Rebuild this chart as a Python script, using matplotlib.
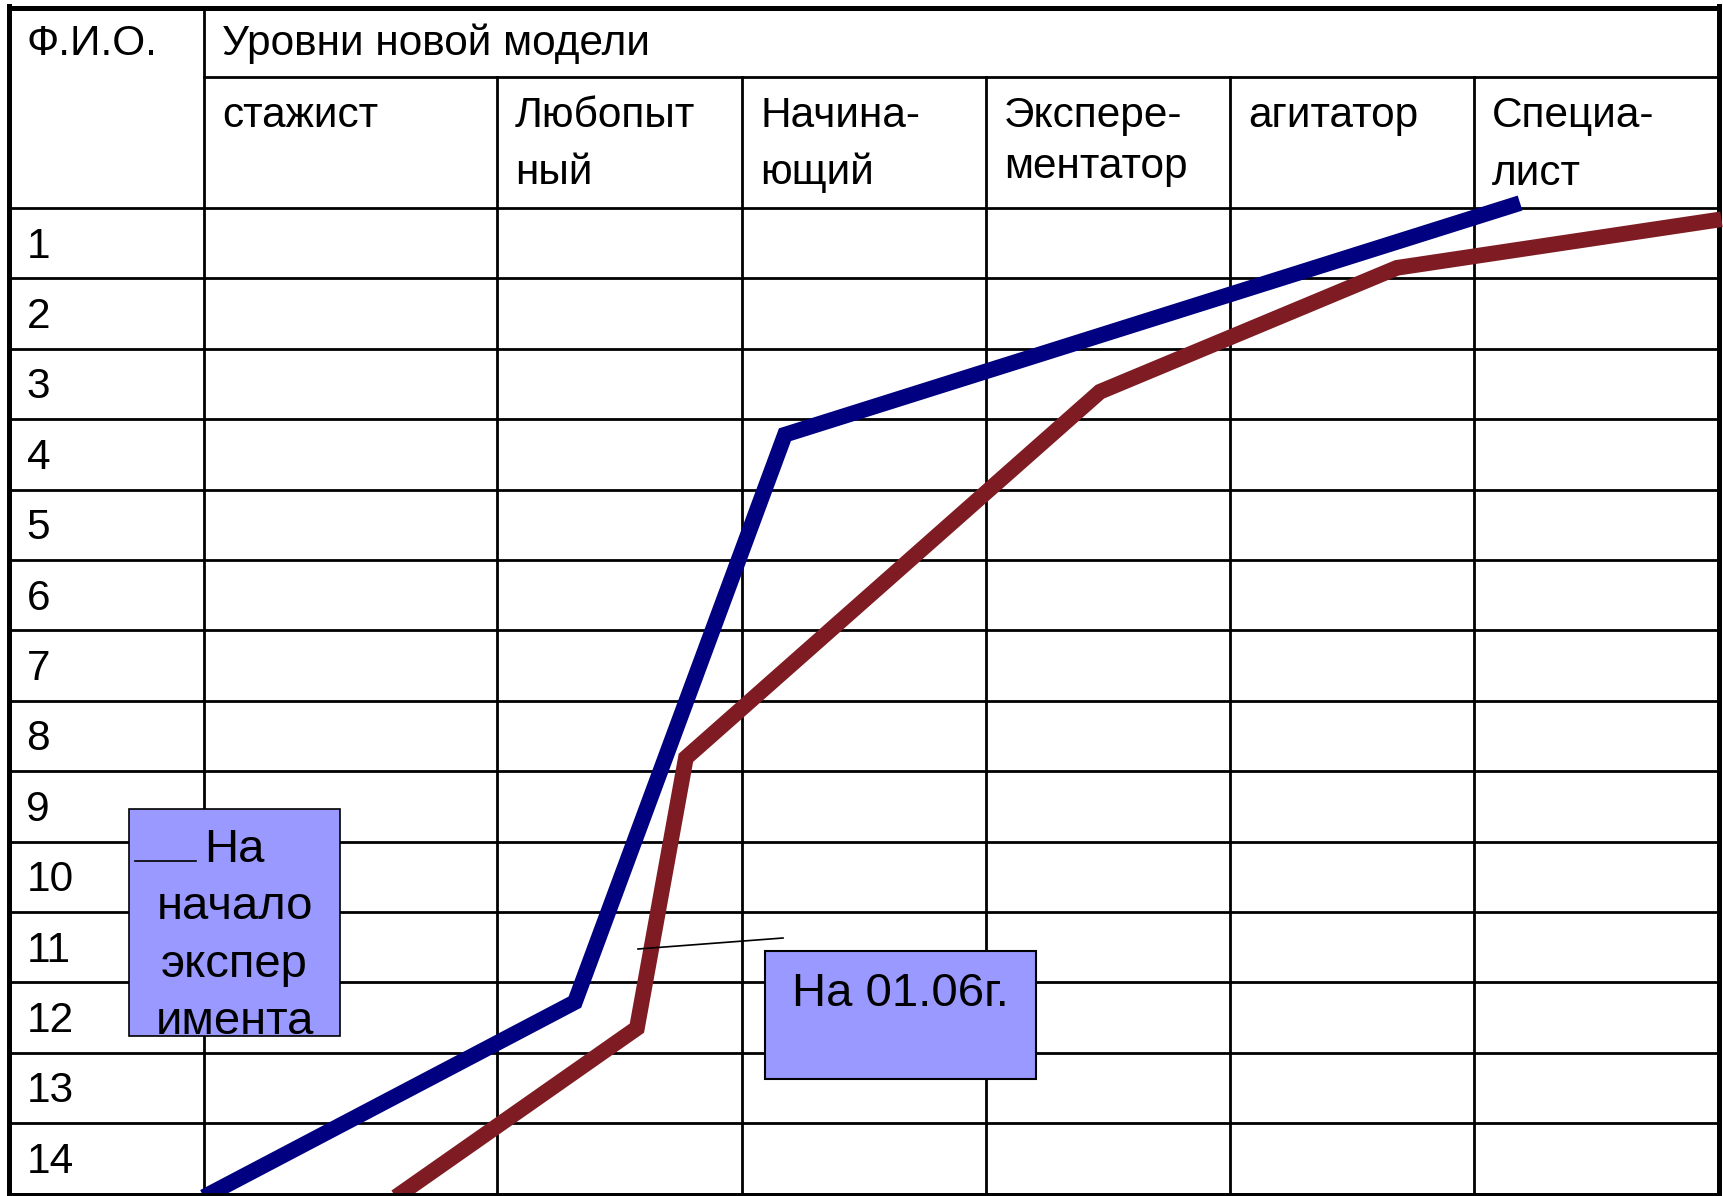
import numpy as np
import matplotlib
matplotlib.use("Agg")
import matplotlib.pyplot as plt
from matplotlib.patches import Rectangle

plt.rcParams['font.family'] = ['Liberation Sans', 'DejaVu Sans']

# ---------------- data ----------------
corner_label = "Ф.И.О."
group_label = "Уровни новой модели"
level_labels = [["стажист"], ["Любопыт", "ный"], ["Начина-", "ющий"],
                ["Экспере-", "ментатор"], ["агитатор"], ["Специа-", "лист"]]
row_labels = [str(i) for i in range(1, 15)]

# series: level position (0..6, column units) vs row position (0 = top of row 1, 14 = bottom)
start_level = [-0.07, 1.318, 2.176, 5.188]
start_row = [14.2, 11.28, 3.22, -0.07]
now_level = [0.603, 1.571, 1.771, 3.467, 4.684, 6.01]
now_row = [14.2, 11.65, 7.81, 2.61, 0.85, 0.16]

start_name = ["На", "начало", "экспер", "имента"]
now_name = "На 01.06г."

# ---------------- layout (pixels) ----------------
W, H = 1723, 1196
col_edges = np.array([8.5, 204, 497, 742, 986, 1230, 1474, 1719])
level_edges = col_edges[1:]
hdr1_y = 77
top_y = 8
row_top = 208
row_h = 70.4
row_edges = row_top + row_h * np.arange(15)
bottom_y = 1195

fig = plt.figure(figsize=(W / 100, H / 100), dpi=100)
ax = fig.add_axes([0, 0, 1, 1])
ax.set_xlim(0, W)
ax.set_ylim(H, 0)
ax.axis('off')

inner_lw = 2.0
outer_lw = 3.6
fs = 30.5

# inner grid
ax.plot([col_edges[1], col_edges[-1]], [hdr1_y, hdr1_y], color='black', lw=inner_lw, zorder=1)
for y in row_edges[:-1]:
    ax.plot([col_edges[0], col_edges[-1]], [y, y], color='black', lw=inner_lw, zorder=1)
ax.plot([col_edges[1], col_edges[1]], [top_y, bottom_y], color='black', lw=inner_lw, zorder=1)
for x in col_edges[2:-1]:
    ax.plot([x, x], [hdr1_y, bottom_y], color='black', lw=inner_lw, zorder=1)

# outer border (left, top, right)
ax.plot([col_edges[0], col_edges[0]], [top_y - 2, bottom_y + 3], color='black', lw=outer_lw, zorder=1)
ax.plot([col_edges[0], col_edges[-1]], [top_y, top_y], color='black', lw=outer_lw, zorder=1)
ax.plot([col_edges[-1], col_edges[-1]], [top_y - 2, bottom_y + 3], color='black', lw=outer_lw, zorder=1)

# header texts
tx = 18
ax.text(col_edges[0] + tx, 55, corner_label, fontsize=fs, va='baseline', ha='left', zorder=2)
ax.text(col_edges[1] + tx, 55, group_label, fontsize=fs, va='baseline', ha='left', zorder=2)
line2_base = [184, 184, 184, 178, 184, 185]
for i, lines in enumerate(level_labels):
    ax.text(col_edges[i + 1] + tx, 127, lines[0], fontsize=fs, va='baseline', ha='left', zorder=2)
    if len(lines) > 1:
        ax.text(col_edges[i + 1] + tx, line2_base[i], lines[1], fontsize=fs,
                va='baseline', ha='left', zorder=2)
for k, lab in enumerate(row_labels):
    ax.text(col_edges[0] + tx, row_edges[k] + 49.5, lab, fontsize=fs, va='baseline', ha='left', zorder=2)

# series lines
def to_px(levels, rows):
    lv = np.asarray(levels, float)
    xs = np.interp(lv, np.arange(7), level_edges)
    xs = np.where(lv < 0, level_edges[0] + lv * (level_edges[1] - level_edges[0]), xs)
    xs = np.where(lv > 6, level_edges[-1] + (lv - 6) * (level_edges[-1] - level_edges[-2]), xs)
    ys = row_top + np.asarray(rows, float) * row_h
    return xs, ys

line_lw = 11.3
bx, by = to_px(start_level, start_row)
ax.plot(bx, by, color='#000080', lw=line_lw, solid_joinstyle='miter', solid_capstyle='butt', zorder=3)
rx, ry = to_px(now_level, now_row)
ax.plot(rx, ry, color='#7f1b23', lw=line_lw, solid_joinstyle='miter', solid_capstyle='butt', zorder=3)

# bottom border over the line ends
ax.plot([col_edges[0], col_edges[-1]], [bottom_y, bottom_y], color='black', lw=outer_lw, zorder=4)

# boxes
box_fc = '#9999ff'
ax.add_patch(Rectangle((129, 809), 340 - 129, 1036 - 809, facecolor=box_fc,
                       edgecolor='black', lw=1.2, zorder=5))
ax.plot([135, 196], [861, 861], color='black', lw=1.2, zorder=6)
for txt, yb in zip(start_name, [861.7, 919, 976.7, 1033.5]):
    ax.text(234.5, yb, txt, fontsize=34, va='baseline', ha='center', zorder=6)

ax.add_patch(Rectangle((765, 951), 1036 - 765, 1079 - 951, facecolor=box_fc,
                       edgecolor='black', lw=1.5, zorder=5))
ax.text(900.5, 1005.7, now_name, fontsize=34, va='baseline', ha='center', zorder=6)

# leader line
ax.plot([638, 783], [949, 938], color='black', lw=1.2, zorder=6)

fig.savefig('out.png', dpi=100)
